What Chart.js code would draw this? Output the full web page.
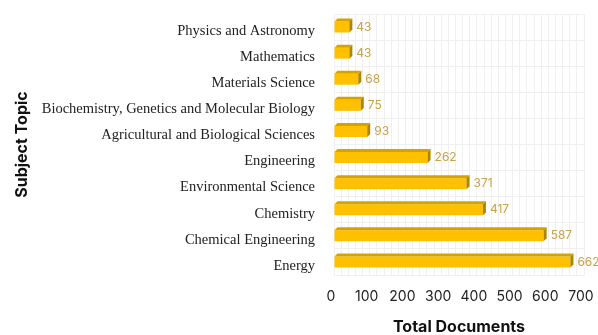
<!DOCTYPE html>
<html>
<head>
<meta charset="utf-8">
<script src="https://cdn.jsdelivr.net/npm/chart.js@4/dist/chart.umd.min.js"></script>
<style>
  html, body { margin: 0; padding: 0; background: #fff; }
  #wrap { width: 598px; height: 335px; }
</style>
</head>
<body>
<div id="wrap"><canvas id="topics"></canvas></div>
<script>
const topics = [
    'Physics and Astronomy',
    'Mathematics',
    'Materials Science',
    'Biochemistry, Genetics and Molecular Biology',
    'Agricultural and Biological Sciences',
    'Engineering',
    'Environmental Science',
    'Chemistry',
    'Chemical Engineering',
    'Energy'
];
const documents = [43, 43, 68, 75, 93, 262, 371, 417, 587, 662];
const xTicks = [0, 100, 200, 300, 400, 500, 600, 700];

const barColor = '#FFC000';
const barTop = '#D6A200';
const barSide = '#AE8500';
const labelColor = '#C7A24A';
const depth = 3;

// fake 3d: top face + right side on each bar, then the value label
const bar3d = {
    id: 'bar3d',
    afterDatasetsDraw(chart) {
        const ctx = chart.ctx;
        const meta = chart.getDatasetMeta(0);
        ctx.save();
        meta.data.forEach((bar, i) => {
            const top = bar.y - bar.height / 2;
            const bottom = bar.y + bar.height / 2;
            ctx.fillStyle = barTop;
            ctx.beginPath();
            ctx.moveTo(bar.base, top);
            ctx.lineTo(bar.x, top);
            ctx.lineTo(bar.x + depth, top - depth);
            ctx.lineTo(bar.base + depth, top - depth);
            ctx.closePath();
            ctx.fill();
            ctx.fillStyle = barSide;
            ctx.beginPath();
            ctx.moveTo(bar.x, top);
            ctx.lineTo(bar.x + depth, top - depth);
            ctx.lineTo(bar.x + depth, bottom - depth);
            ctx.lineTo(bar.x, bottom);
            ctx.closePath();
            ctx.fill();

            ctx.fillStyle = labelColor;
            ctx.font = '12px Inter';
            ctx.textAlign = 'left';
            ctx.textBaseline = 'middle';
            ctx.fillText(documents[i], bar.x + depth + 4, bar.y);
        });
        ctx.restore();
    }
};

new Chart(document.querySelector('#topics'), {
    type: 'bar',
    data: {
        labels: topics,
        datasets: [{
            data: documents,
            backgroundColor: barColor,
            borderWidth: 0,
            barPercentage: 0.42,
            categoryPercentage: 1
        }]
    },
    options: {
        indexAxis: 'y',
        responsive: true,
        maintainAspectRatio: false,
        animation: false,
        layout: { padding: { top: 14, right: 14, bottom: 0, left: 0 } },
        plugins: {
            legend: { display: false },
            tooltip: { enabled: false }
        },
        scales: {
            x: {
                min: 0,
                max: 700,
                border: { display: false },
                grid: { color: '#F0F0F0', drawTicks: false },
                ticks: {
                    stepSize: 20,
                    autoSkip: false,
                    maxRotation: 0,
                    padding: 13,
                    labelOffset: -3,
                    color: '#222',
                    font: { family: 'Inter', size: 14 },
                    callback: (v) => xTicks.includes(v) ? v : ''
                },
                title: {
                    display: true,
                    text: 'Total Documents',
                    color: '#111',
                    font: { family: 'Inter', size: 16, weight: 'bold', lineHeight: 1 },
                    padding: { top: 0, bottom: 0 }
                },
                afterFit(scale) {
                    scale.height = 60;
                    scale.paddingLeft = 0;
                    scale.paddingRight = 0;
                }
            },
            y: {
                border: { display: false },
                grid: { color: '#F0F0F0', drawTicks: false },
                ticks: {
                    padding: 19,
                    labelOffset: 4,
                    color: '#222',
                    font: { family: 'Liberation Serif', size: 14.5 }
                },
                title: {
                    display: true,
                    text: 'Subject Topic',
                    color: '#111',
                    font: { family: 'Inter', size: 16, weight: 'bold' },
                    padding: { top: 13, bottom: 0 }
                },
                afterFit(scale) {
                    scale.width = 334;
                    scale.paddingTop = 0;
                    scale.paddingBottom = 0;
                }
            }
        }
    },
    plugins: [bar3d]
});
</script>
</body>
</html>
